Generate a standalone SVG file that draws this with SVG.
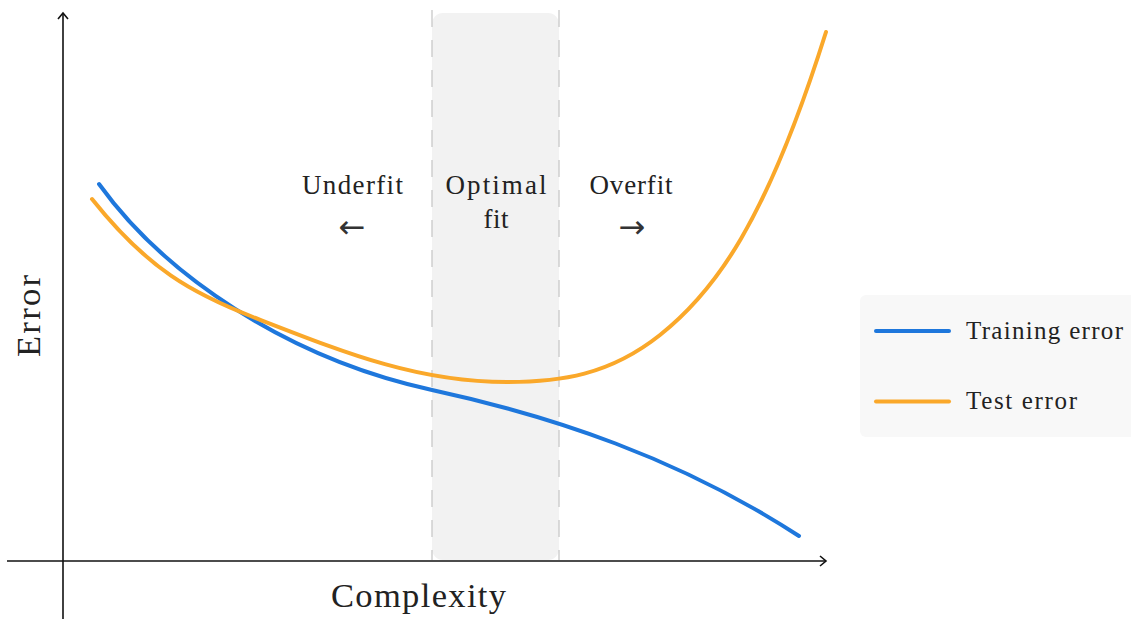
<svg xmlns="http://www.w3.org/2000/svg" width="1131" height="619" viewBox="0 0 1131 619">
<style>
.lbl{font-family:"Liberation Serif","DejaVu Serif",serif;fill:#222;text-anchor:middle}
.leg{font-family:"Liberation Serif","DejaVu Serif",serif;fill:#222;font-size:25px}
.arw{font-family:"DejaVu Sans",sans-serif;fill:#333;text-anchor:middle;font-size:32px}
.ax{stroke:#111;stroke-width:1.6;fill:none}
.curve{fill:none;stroke-width:4;stroke-linecap:round;stroke-linejoin:round}
.train{stroke:#1E77DC}
.test{stroke:#FAA82A}
.dash{stroke:#c8c8c8;stroke-width:1.3;stroke-dasharray:17 13}
</style>
<defs>
<marker id="arr" viewBox="0 0 12 12" refX="10" refY="6" markerWidth="12" markerHeight="12" markerUnits="userSpaceOnUse" orient="auto">
<path d="M4,1 L10,6 L4,11" fill="none" stroke="#111" stroke-width="1.6"/>
</marker>
</defs>
<rect width="1131" height="619" fill="#fff"/>
<g id="optimal-region">
<rect x="432" y="13" width="127" height="547" rx="11" fill="#f2f2f2"/>
<line class="dash" x1="432" y1="10" x2="432" y2="560"/>
<line class="dash" x1="559" y1="10" x2="559" y2="560"/>
</g>
<g id="axes">
<line class="ax" x1="63" y1="619" x2="63" y2="13" marker-end="url(#arr)"/>
<line class="ax" x1="7" y1="561" x2="826" y2="561" marker-end="url(#arr)"/>
<text class="lbl" x="418.5" y="607" font-size="34.5" textLength="175">Complexity</text>
<text class="lbl" transform="translate(40,316) rotate(-90)" font-size="34.5" textLength="82">Error</text>
</g>
<g id="connectors">
<path id="training-curve" class="curve train" d="M99,184 C163,273 285,358 432,390 C552,416 679,458 799,536"/>
<path id="test-curve" class="curve test" d="M92,199 C148,269.5 193,293.6 253,317 C346.2,353.3 417,382 507,382 C560,382 609.3,375.3 660,335 C714.6,291.6 766,222.8 826,32"/>
</g>
<g id="underfit">
<text class="lbl" x="352.5" y="194" font-size="27" textLength="101">Underfit</text>
<text class="arw" x="352" y="238">←</text>
</g>
<g id="optimal">
<text class="lbl" x="496" y="194" font-size="27" textLength="101">Optimal</text>
<text class="lbl" x="496" y="228" font-size="27" textLength="25">fit</text>
</g>
<g id="overfit">
<text class="lbl" x="631" y="194" font-size="27" textLength="83">Overfit</text>
<text class="arw" x="632" y="238">→</text>
</g>
<g id="legend">
<rect x="860" y="295" width="280" height="142" rx="6" fill="#f8f8f8"/>
<line class="curve train" x1="876" y1="331" x2="949" y2="331" stroke-width="3.5"/>
<text class="leg" x="966" y="339" textLength="157">Training error</text>
<line class="curve test" x1="876" y1="401.5" x2="949" y2="401.5" stroke-width="3.5"/>
<text class="leg" x="966" y="409" textLength="111">Test error</text>
</g>
</svg>
